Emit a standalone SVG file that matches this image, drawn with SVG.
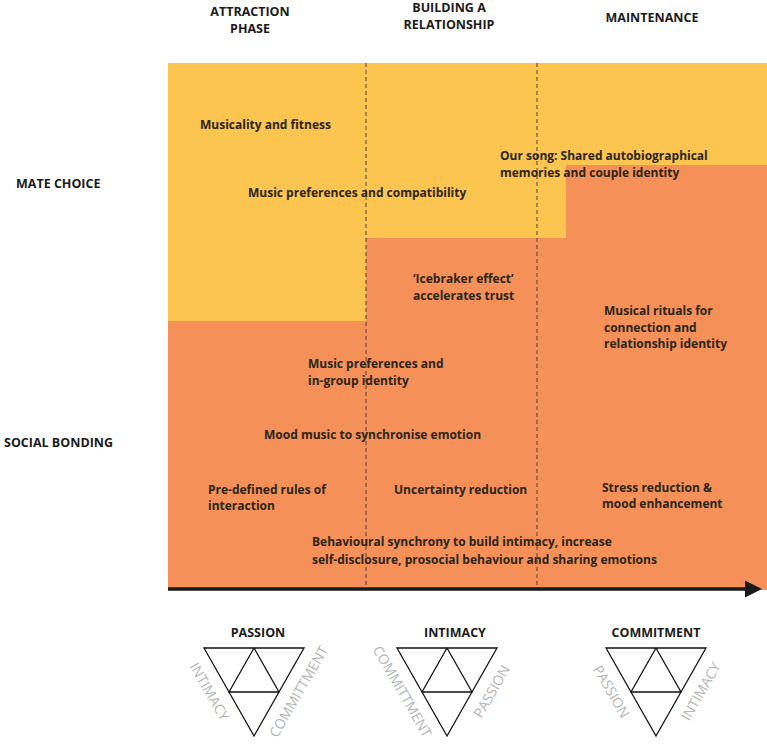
<svg xmlns="http://www.w3.org/2000/svg" width="767" height="744" viewBox="0 0 767 744">
<defs>
<style>
.t{font-family:"Open Sans","Liberation Sans",sans-serif;font-weight:bold;font-size:12px;fill:#2b2419}
.h{font-family:"Open Sans","Liberation Sans",sans-serif;font-weight:bold;font-size:12.5px;fill:#1a1a1a}
.s{font-family:"Open Sans","Liberation Sans",sans-serif;font-size:14px;fill:#b5b5b5}
.tri{fill:none;stroke:#111;stroke-width:1.3}
.d{stroke:#444;stroke-width:1;stroke-dasharray:4,3}
</style>
<marker id="ah" markerWidth="5" markerHeight="5" refX="3" refY="2.5" orient="auto" markerUnits="strokeWidth"><path d="M0,0 L5,2.5 L0,5z" fill="#1a1a1a"/></marker>
<g id="tri"><path class="tri" d="M-50,0 L50,0 L0,88 Z M0,0 L-25,44 L25,44 Z"/></g>
</defs>
<rect width="767" height="744" fill="#fff"/>
<g id="bg">
<rect x="168" y="63" width="599" height="527" fill="#fcc550"/>
<path d="M168,321 H366 V238 H566 V165 H767 V590 H168 Z" fill="#f59158"/>
<line class="d" x1="366" y1="63" x2="366" y2="590"/>
<line class="d" x1="537" y1="63" x2="537" y2="590"/>
</g>
<g id="headers">
<text class="h" x="250" y="16" text-anchor="middle">ATTRACTION</text>
<text class="h" x="250" y="33" text-anchor="middle">PHASE</text>
<text class="h" x="449" y="12" text-anchor="middle">BUILDING A</text>
<text class="h" x="449" y="29" text-anchor="middle">RELATIONSHIP</text>
<text class="h" x="652" y="22" text-anchor="middle">MAINTENANCE</text>
<text class="h" x="16" y="188">MATE CHOICE</text>
<text class="h" x="4" y="447">SOCIAL BONDING</text>
</g>
<g id="labels">
<text class="t" x="200" y="129">Musicality and fitness</text>
<text class="t" x="248" y="197">Music preferences and compatibility</text>
<text class="t" x="500" y="160">Our song: Shared autobiographical</text>
<text class="t" x="500" y="177">memories and couple identity</text>
<text class="t" x="413" y="283">‘Icebraker effect’</text>
<text class="t" x="413" y="300">accelerates trust</text>
<text class="t" x="604" y="315">Musical rituals for</text>
<text class="t" x="604" y="332">connection and</text>
<text class="t" x="604" y="348">relationship identity</text>
<text class="t" x="308" y="368">Music preferences and</text>
<text class="t" x="308" y="385">in-group identity</text>
<text class="t" x="264" y="439">Mood music to synchronise emotion</text>
<text class="t" x="208" y="494">Pre-defined rules of</text>
<text class="t" x="208" y="510">interaction</text>
<text class="t" x="394" y="494">Uncertainty reduction</text>
<text class="t" x="602" y="492">Stress reduction &amp;</text>
<text class="t" x="602" y="508">mood enhancement</text>
<text class="t" x="312" y="546">Behavioural synchrony to build intimacy, increase</text>
<text class="t" x="312" y="564">self-disclosure, prosocial behaviour and sharing emotions</text>
</g>
<g id="connectors">
<line x1="168" y1="589" x2="755" y2="589" stroke="#1a1a1a" stroke-width="3.5" marker-end="url(#ah)"/>
</g>
<g id="passion">
<text class="h" x="258" y="637" text-anchor="middle" font-size="14">PASSION</text>
<use href="#tri" x="254" y="648"/>
<text class="s" transform="translate(205,694) rotate(60)" text-anchor="middle">INTIMACY</text>
<text class="s" transform="translate(303,694) rotate(-60)" text-anchor="middle">COMMITTMENT</text>
</g>
<g id="intimacy">
<text class="h" x="455" y="637" text-anchor="middle" font-size="14">INTIMACY</text>
<use href="#tri" x="447" y="648"/>
<text class="s" transform="translate(398,694) rotate(60)" text-anchor="middle">COMMITTMENT</text>
<text class="s" transform="translate(496,694) rotate(-60)" text-anchor="middle">PASSION</text>
</g>
<g id="commitment">
<text class="h" x="656" y="637" text-anchor="middle" font-size="14">COMMITMENT</text>
<use href="#tri" x="656" y="648"/>
<text class="s" transform="translate(607,694) rotate(60)" text-anchor="middle">PASSION</text>
<text class="s" transform="translate(705,694) rotate(-60)" text-anchor="middle">INTIMACY</text>
</g>
</svg>
